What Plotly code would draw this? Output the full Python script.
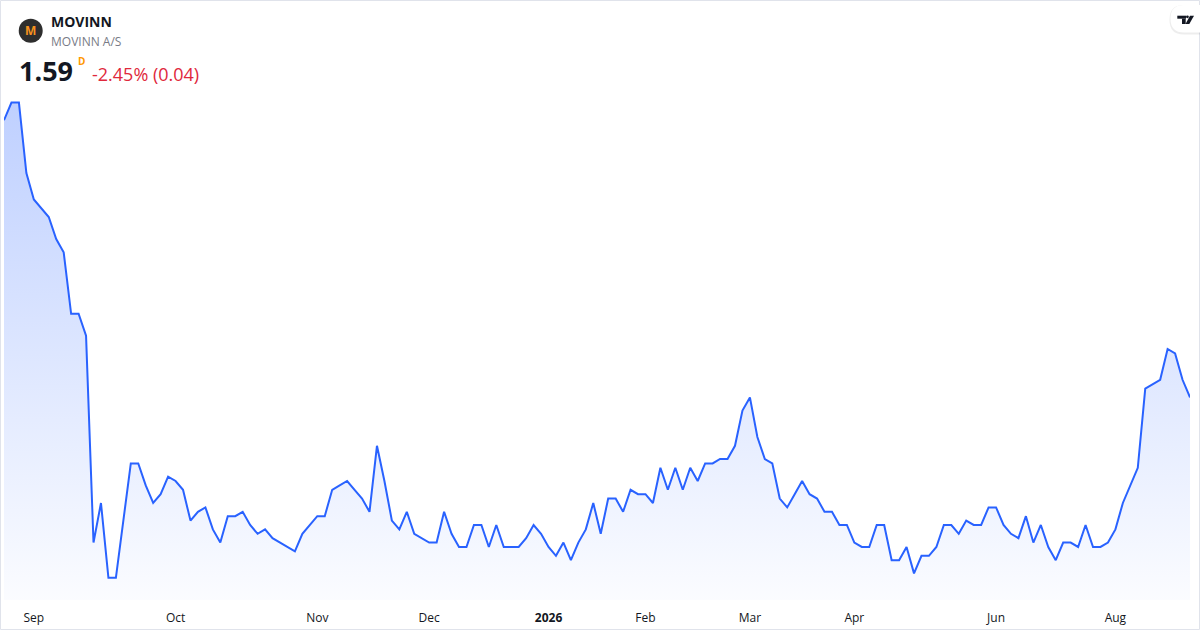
import plotly.graph_objects as go

# ---- data (daily closes, one point per traded day) ----
prices = [
    2.22, 2.26, 2.26, 2.10, 2.04, 2.02, 2.00, 1.95, 1.92, 1.78,
    1.78, 1.73, 1.26, 1.35, 1.18, 1.18, 1.31, 1.44, 1.44, 1.39,
    1.35, 1.37, 1.41, 1.40, 1.38, 1.31, 1.33, 1.34, 1.29, 1.26,
    1.32, 1.32, 1.33, 1.30, 1.28, 1.29, 1.27, 1.26, 1.25, 1.24,
    1.28, 1.30, 1.32, 1.32, 1.38, 1.39, 1.40, 1.38, 1.36, 1.33,
    1.48, 1.40, 1.31, 1.29, 1.33, 1.28, 1.27, 1.26, 1.26, 1.33,
    1.28, 1.25, 1.25, 1.30, 1.30, 1.25, 1.30, 1.25, 1.25, 1.25,
    1.27, 1.30, 1.28, 1.25, 1.23, 1.26, 1.22, 1.26, 1.29, 1.35,
    1.28, 1.36, 1.36, 1.33, 1.38, 1.37, 1.37, 1.35, 1.43, 1.38,
    1.43, 1.38, 1.43, 1.40, 1.44, 1.44, 1.45, 1.45, 1.48, 1.56,
    1.59, 1.50, 1.45, 1.44, 1.36, 1.34, 1.37, 1.40, 1.37, 1.36,
    1.33, 1.33, 1.30, 1.30, 1.26, 1.25, 1.25, 1.30, 1.30, 1.22,
    1.22, 1.25, 1.19, 1.23, 1.23, 1.25, 1.30, 1.30, 1.28, 1.31,
    1.30, 1.30, 1.34, 1.34, 1.30, 1.28, 1.27, 1.32, 1.26, 1.30,
    1.25, 1.22, 1.26, 1.26, 1.25, 1.30, 1.25, 1.25, 1.26, 1.29,
    1.35, 1.39, 1.43, 1.61, 1.62, 1.63, 1.70, 1.69, 1.63, 1.59,
]
bar_index = list(range(len(prices)))

# first bar of each labelled month
tick_bars = [4, 23, 42, 57, 73, 86, 100, 114, 133, 149]
tick_labels = ["Sep", "Oct", "Nov", "Dec", "<b>2026</b>", "Feb", "Mar", "Apr", "Jun", "Aug"]

symbol = "MOVINN"
company = "MOVINN A/S"
last_price = "1.59"
change_text = "-2.45% (0.04)"

# ---- layout geometry ----
W, H = 1200, 630
ML, MR, MT, MB = 4, 10, 0, 30
PW, PH = W - ML - MR, H - MT - MB
Y_LO, Y_HI = 1.1295, 2.4932


def px(x):
    return (x - ML) / PW


def py(y):
    return (H - MB - y) / PH


FONT = "Open Sans, Roboto, sans-serif"
BLUE = "#2962FF"

fig = go.Figure()
fig.add_trace(go.Scatter(
    x=bar_index, y=prices, mode="lines",
    line=dict(color=BLUE, width=2),
    fill="tozeroy",
    fillgradient=dict(
        type="vertical",
        start=Y_LO, stop=max(prices),
        colorscale=[[0, "rgba(41,98,255,0.02)"], [1, "rgba(41,98,255,0.30)"]],
    ),
    hoverinfo="skip",
    showlegend=False,
))

shapes = []
# widget border
shapes.append(dict(type="rect", xref="paper", yref="paper",
                   x0=px(0.5), x1=px(1199.5), y0=py(629.5), y1=py(0.5),
                   line=dict(color="#E0E3EB", width=1), fillcolor="rgba(0,0,0,0)",
                   layer="above"))
# logo circle
shapes.append(dict(type="circle", xref="paper", yref="paper",
                   x0=px(18.7), x1=px(42.7), y0=py(42.7), y1=py(18.7),
                   fillcolor="#2E2E2E", line=dict(width=0)))


def pill(x0, y0, y1, xr, r):
    cy = (y0 + y1) / 2
    pts = (f"M{px(xr)},{py(y0)} L{px(x0 + r)},{py(y0)} "
           f"Q{px(x0)},{py(y0)} {px(x0)},{py(cy)} "
           f"Q{px(x0)},{py(y1)} {px(x0 + r)},{py(y1)} "
           f"L{px(xr)},{py(y1)} Z")
    return pts


# TradingView badge (shadow + pill)
shapes.append(dict(type="path", xref="paper", yref="paper",
                   path=pill(1169.5, 5, 34.5, 1205, 14),
                   fillcolor="rgba(0,0,0,0.07)", line=dict(width=0)))
shapes.append(dict(type="path", xref="paper", yref="paper",
                   path=pill(1170.5, 5, 32.5, 1205, 13.5),
                   fillcolor="#FFFFFF", line=dict(width=0)))
# TV glyph
shapes.append(dict(type="rect", xref="paper", yref="paper",
                   x0=px(1177.3), x1=px(1186), y0=py(18.7), y1=py(15.7),
                   fillcolor="#131722", line=dict(width=0)))
shapes.append(dict(type="rect", xref="paper", yref="paper",
                   x0=px(1182), x1=px(1185.7), y0=py(24), y1=py(18.7),
                   fillcolor="#131722", line=dict(width=0)))
shapes.append(dict(type="circle", xref="paper", yref="paper",
                   x0=px(1186), x1=px(1188.8), y0=py(18.2), y1=py(15.4),
                   fillcolor="#131722", line=dict(width=0)))
shapes.append(dict(type="path", xref="paper", yref="paper",
                   path=(f"M{px(1190)},{py(15.7)} L{px(1194)},{py(15.7)} "
                         f"L{px(1189.3)},{py(24)} L{px(1185.5)},{py(24)} Z"),
                   fillcolor="#131722", line=dict(width=0)))

annotations = [
    dict(text="<b>M</b>", x=px(30.7), y=py(31), xanchor="center", yanchor="middle",
         font=dict(family=FONT, size=12, color="#F7931E")),
    dict(text=f"<b>{symbol}</b>", x=px(49), y=py(21), xanchor="left", yanchor="middle",
         font=dict(family=FONT, size=14, color="#131722")),
    dict(text=company, x=px(49), y=py(41), xanchor="left", yanchor="middle",
         font=dict(family=FONT, size=12, color="#787B86")),
    dict(text=f"<b>{last_price}</b>", x=px(17), y=py(71), xanchor="left", yanchor="middle",
         font=dict(family=FONT, size=27, color="#131722")),
    dict(text="<b>D</b>", x=px(76), y=py(61), xanchor="left", yanchor="middle",
         font=dict(family=FONT, size=10, color="#FF9800")),
    dict(text=change_text, x=px(90), y=py(74), xanchor="left", yanchor="middle",
         font=dict(family=FONT, size=18, color="#E0283C")),
]
for a in annotations:
    a.update(xref="paper", yref="paper", showarrow=False)

fig.update_layout(
    width=W, height=H,
    margin=dict(l=ML, r=MR, t=MT, b=MB, autoexpand=False),
    paper_bgcolor="#FFFFFF", plot_bgcolor="#FFFFFF",
    xaxis=dict(range=[0, len(prices) - 1], showgrid=False, zeroline=False,
               showline=False, ticks="", tickmode="array",
               tickvals=tick_bars, ticktext=tick_labels,
               ticklabelstandoff=9,
               tickfont=dict(family=FONT, size=12, color="#131722"),
               fixedrange=True),
    yaxis=dict(range=[Y_LO, Y_HI], visible=False, fixedrange=True),
    shapes=shapes,
    annotations=annotations,
    hovermode=False,
)

fig.write_html(
    "out.html",
    config={"displayModeBar": False},
    post_script="document.body.style.margin='0';document.body.style.overflow='hidden';",
)
